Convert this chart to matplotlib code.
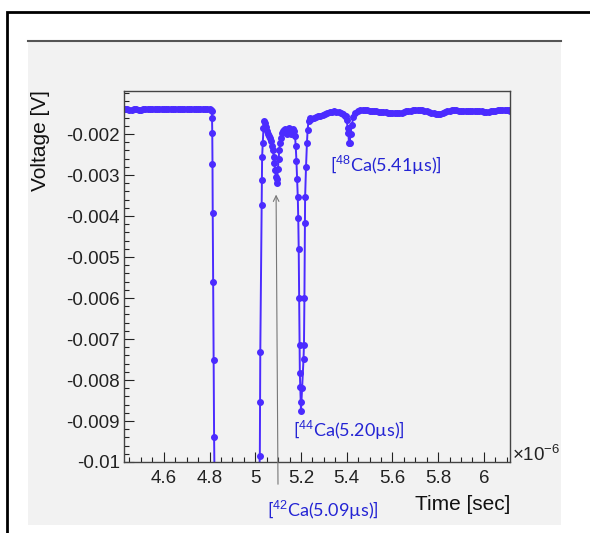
import matplotlib
matplotlib.use("Agg")
import matplotlib.pyplot as plt
from matplotlib.patches import Rectangle
from matplotlib.lines import Line2D
from matplotlib.ticker import FixedLocator, MultipleLocator

plt.rcParams['font.family'] = ['Liberation Sans', 'DejaVu Sans']
plt.rcParams['axes.unicode_minus'] = False
plt.rcParams['mathtext.fontset'] = 'custom'
plt.rcParams['mathtext.rm'] = 'Liberation Sans'
plt.rcParams['mathtext.it'] = 'Liberation Sans'

# time in microseconds (axis shows x 10^-6 sec), voltage in V
# flat baseline before the pulses
base_left_t = [
    4.426, 4.43, 4.44, 4.45, 4.46, 4.47, 4.48, 4.49, 4.50, 4.51, 4.52, 4.53, 4.54,
    4.55, 4.56, 4.57, 4.58, 4.59, 4.60, 4.61, 4.62, 4.63, 4.64, 4.65, 4.66, 4.67,
    4.68, 4.69, 4.70, 4.71, 4.72, 4.73, 4.74, 4.75, 4.76, 4.77, 4.78, 4.79, 4.80,
    4.806, 4.810,
]
base_left_v = [
    -0.00139, -0.00140, -0.00140, -0.00141, -0.00141, -0.00140, -0.00140, -0.00141,
    -0.00141, -0.00140, -0.00140, -0.00139, -0.00139, -0.00140, -0.00140, -0.00140,
    -0.00140, -0.00139, -0.00139, -0.00140, -0.00140, -0.00139, -0.00139, -0.00138,
    -0.00138, -0.00139, -0.00139, -0.00139, -0.00139, -0.00138, -0.00138, -0.00139,
    -0.00139, -0.00138, -0.00138, -0.00139, -0.00139, -0.00139, -0.00140,
    -0.00141, -0.00144,
]

# pulse region (42Ca, 44Ca, 48Ca)
pulse_t = [
    4.811, 4.812, 4.813, 4.814, 4.816, 4.818, 4.820, 4.823, 4.83,
    5.00, 5.012, 5.020, 5.021, 5.022, 5.028, 5.029, 5.030, 5.033, 5.036, 5.040,
    5.044, 5.048, 5.052, 5.056, 5.060, 5.065, 5.070, 5.075, 5.078, 5.081, 5.084,
    5.087, 5.090, 5.093, 5.096, 5.099, 5.102, 5.105, 5.108, 5.112, 5.116, 5.120,
    5.125, 5.130, 5.134, 5.138, 5.142, 5.146, 5.150, 5.155, 5.160, 5.165, 5.170,
    5.174, 5.177, 5.180, 5.183, 5.186, 5.188, 5.190, 5.192, 5.194, 5.195, 5.197,
    5.199, 5.200, 5.205, 5.211, 5.213, 5.215, 5.217, 5.218, 5.222, 5.226, 5.229,
    5.233, 5.238, 5.245, 5.255, 5.265, 5.275, 5.285, 5.295, 5.305, 5.315, 5.325,
    5.335, 5.345, 5.355, 5.365, 5.375, 5.385, 5.392, 5.396, 5.400, 5.404, 5.407,
    5.410, 5.413, 5.417, 5.422, 5.429, 5.438,
]
pulse_v = [
    -0.00161, -0.00198, -0.00273, -0.00393, -0.00561, -0.00751, -0.00939, -0.0110,
    -0.0125,
    -0.0125, -0.0110, -0.00985, -0.00854, -0.00732, -0.00373, -0.00312, -0.00256,
    -0.00222, -0.00185, -0.00168,
    -0.00172, -0.00182, -0.00192, -0.00200, -0.00205, -0.00210, -0.00218, -0.00228,
    -0.00240, -0.00255, -0.00270, -0.00288, -0.00305, -0.00320, -0.00310, -0.00285,
    -0.00262, -0.00240, -0.00222, -0.00210, -0.00198, -0.00192, -0.00190, -0.00188,
    -0.00195, -0.00200, -0.00192, -0.00186, -0.00190, -0.00200, -0.00192, -0.00188,
    -0.00192, -0.00205, -0.00230, -0.00265, -0.00310, -0.00354, -0.00405, -0.00480,
    -0.00600, -0.00715, -0.00783, -0.00817, -0.00854, -0.00876, -0.00820, -0.00749,
    -0.00715, -0.00600, -0.00417, -0.00354, -0.00280, -0.00222, -0.00190, -0.00168,
    -0.00161, -0.00163, -0.00160, -0.00158, -0.00157, -0.00155, -0.00153, -0.00150,
    -0.00149, -0.00147, -0.00146, -0.00145, -0.00146, -0.00147, -0.00149, -0.00150,
    -0.00155, -0.00156, -0.00166, -0.00185, -0.00198, -0.00222, -0.00222, -0.00200,
    -0.00178, -0.00159, -0.00149,
]

# baseline after the pulses
base_right_t = [
    5.45, 5.46, 5.47, 5.48, 5.49, 5.50, 5.51, 5.52, 5.53, 5.54, 5.55, 5.56, 5.57,
    5.58, 5.59, 5.60, 5.61, 5.62, 5.63, 5.64, 5.65, 5.66, 5.67, 5.68, 5.69, 5.70,
    5.71, 5.72, 5.73, 5.74, 5.75, 5.76, 5.77, 5.78, 5.79, 5.80, 5.81, 5.82, 5.83,
    5.84, 5.85, 5.86, 5.87, 5.88, 5.89, 5.90, 5.91, 5.92, 5.93, 5.94, 5.95, 5.96,
    5.97, 5.98, 5.99, 6.00, 6.01, 6.02, 6.03, 6.04, 6.05, 6.06, 6.07, 6.08, 6.09,
    6.10, 6.11, 6.114,
]
base_right_v = [
    -0.00144, -0.00142, -0.00141, -0.00141, -0.00142, -0.00143, -0.00144, -0.00145,
    -0.00145, -0.00146, -0.00146, -0.00147, -0.00147, -0.00148, -0.00148, -0.00148,
    -0.00149, -0.00149, -0.00149, -0.00148, -0.00146, -0.00145, -0.00144, -0.00143,
    -0.00142, -0.00141, -0.00141, -0.00141, -0.00142, -0.00143, -0.00145, -0.00146,
    -0.00148, -0.00149, -0.00150, -0.00151, -0.00150, -0.00149, -0.00147, -0.00145,
    -0.00143, -0.00142, -0.00142, -0.00142, -0.00143, -0.00144, -0.00145, -0.00145,
    -0.00145, -0.00144, -0.00143, -0.00143, -0.00144, -0.00144, -0.00145, -0.00146,
    -0.00146, -0.00146, -0.00145, -0.00144, -0.00143, -0.00142, -0.00141, -0.00141,
    -0.00141, -0.00142, -0.00142, -0.00143,
]

x_ticks = [4.6, 4.8, 5.0, 5.2, 5.4, 5.6, 5.8, 6.0]
x_labels = ["4.6", "4.8", "5", "5.2", "5.4", "5.6", "5.8", "6"]
y_ticks = [-0.01, -0.009, -0.008, -0.007, -0.006, -0.005, -0.004, -0.003, -0.002]
y_labels = ["-0.01", "-0.009", "-0.008", "-0.007", "-0.006", "-0.005", "-0.004",
            "-0.003", "-0.002"]

time_us = base_left_t + pulse_t + base_right_t
voltage = base_left_v + pulse_v + base_right_v

W, H = 590, 533
fig = plt.figure(figsize=(W / 100, H / 100), dpi=100)
fig.patch.set_facecolor('white')

# grey canvas panel and outer frame
fig.patches.append(Rectangle((28 / W, 1 - 525 / H), 533 / W, 484 / H,
                             transform=fig.transFigure, fc='#f2f2f2', ec='none', zorder=-2))
fig.lines.append(Line2D([28 / W, 561 / W], [1 - 41 / H, 1 - 41 / H],
                        transform=fig.transFigure, color='#555555', lw=1.5, zorder=-1))
fig.patches.append(Rectangle((7 / W, -0.2), 1.3, 1.2 - 12 / H,
                             transform=fig.transFigure, fc='none', ec='black', lw=2,
                             zorder=-1))

ax = fig.add_axes([124 / W, 1 - 462 / H, 386 / W, 371 / H])
ax.set_zorder(2)
ax.set_facecolor('#f2f2f2')
ax.plot(time_us, voltage, '-o', color='#4b2bff', lw=1.4, ms=4.0, mec='#4b2bff')

ax.set_xlim(4.426, 6.114)
ax.set_ylim(-0.01, -0.00095)

ax.xaxis.set_major_locator(FixedLocator(x_ticks))
ax.set_xticklabels(x_labels)
ax.xaxis.set_minor_locator(MultipleLocator(0.05))
ax.yaxis.set_major_locator(FixedLocator(y_ticks))
ax.set_yticklabels(y_labels)
ax.yaxis.set_minor_locator(MultipleLocator(0.0002))
ax.tick_params(which='both', direction='in', top=False, right=False,
               labelsize=13.5, colors='#222222')
ax.tick_params(which='major', length=7.5, width=0.8)
ax.tick_params(which='minor', length=3.8, width=0.8)
ax.tick_params(axis='x', pad=6)
ax.tick_params(axis='y', pad=3)
for s in ax.spines.values():
    s.set_color('#444444')
    s.set_linewidth(1.0)

lab_kw = dict(color='#2424d4', fontsize=13, family=['Lato', 'DejaVu Sans'],
              ha='left', va='center', clip_on=False)
ax.text(5.327, -0.00276, "[$^{48}$Ca(5.41µs)]", **lab_kw)
ax.text(5.165, -0.00922, "[$^{44}$Ca(5.20µs)]", **lab_kw)
ax.text(5.051, -0.01117, "[$^{42}$Ca(5.09µs)]", **lab_kw)

ax.annotate('', xy=(5.091, -0.00341), xytext=(5.0995, -0.01061),
            arrowprops=dict(arrowstyle='->', color='#777777', lw=0.8),
            annotation_clip=False)

ax.text(6.122, -0.00983, "×10$^{-6}$", fontsize=13.5, color='#222222',
        ha='left', va='center', clip_on=False)

fig.text(510 / W, 1 - 505 / H, "Time [sec]", fontsize=15, color='#111111',
         ha='right', va='center')
fig.text(41 / W, 1 - 90 / H, "Voltage [V]", fontsize=15, color='#111111',
         rotation=90, ha='center', va='top')

fig.savefig('out.png', dpi=100)
